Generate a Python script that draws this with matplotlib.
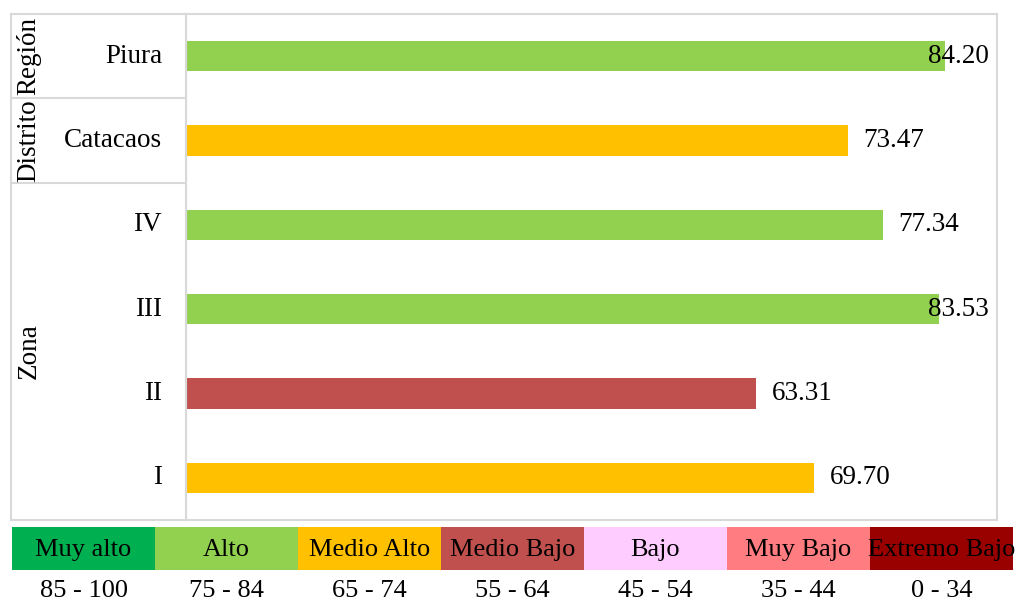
import matplotlib
matplotlib.use("Agg")
import matplotlib.pyplot as plt
from matplotlib.patches import Rectangle

plt.rcParams['font.family'] = ['Liberation Serif', 'DejaVu Serif']

# ---- data ----
categories = ["I", "II", "III", "IV", "Catacaos", "Piura"]
values = [69.70, 63.31, 83.53, 77.34, 73.47, 84.20]
groups = ["Zona", "Distrito", "Región"]
group_spans = [(0, 3), (4, 4), (5, 5)]  # index ranges in categories

level_names = ["Muy alto", "Alto", "Medio Alto", "Medio Bajo", "Bajo", "Muy Bajo", "Extremo Bajo"]
level_ranges = ["85 - 100", "75 - 84", "65 - 74", "55 - 64", "45 - 54", "35 - 44", "0 - 34"]
level_low = [85, 75, 65, 55, 45, 35, 0]
level_colors = ["#00B050", "#92D050", "#FFC000", "#C0504D", "#FFCCFF", "#FF7C80", "#990000"]

def level_color(v):
    for lo, c in zip(level_low, level_colors):
        if round(v) >= lo:
            return c
    return level_colors[-1]

W, H = 1016, 603
fig = plt.figure(figsize=(W / 100, H / 100), dpi=100)
border = "#D9D9D9"
FS = 19.5
FSL = 19

def fx(px):
    return px / W

def fy(py):
    return 1 - py / H

# main bar axes
ax = fig.add_axes([fx(186), fy(520), fx(997 - 186), (520 - 14) / H])
ypos = list(range(len(categories)))
ax.barh(ypos, values, height=0.36, color=[level_color(v) for v in values], zorder=2)
xmax = 90
ax.set_xlim(0, xmax)
ax.set_ylim(-0.5, len(categories) - 0.5)
for y, v in zip(ypos, values):
    xt = min(v + 1.7, 82.3)
    ax.text(xt, y, f"{v:.2f}", ha="left", va="center", fontsize=FS, zorder=3)
ax.set_xticks([])
ax.set_yticks([])
for s in ax.spines.values():
    s.set_color(border)
    s.set_linewidth(1.5)

# left category table
axc = fig.add_axes([fx(11), fy(520), fx(186 - 11), (520 - 14) / H], sharey=ax)
axc.set_xlim(0, 1)
axc.set_xticks([])
axc.tick_params(left=False, labelleft=False)
for s in axc.spines.values():
    s.set_color(border)
    s.set_linewidth(1.5)
for y, c in zip(ypos, categories):
    axc.text((162 - 11) / 175, y, c, ha="right", va="center", fontsize=FS)
for g, (a, b) in zip(groups, group_spans):
    axc.text((29 - 11) / 175, (a + b) / 2, g, rotation=90, ha="center", va="center", fontsize=FS)
    if b < len(categories) - 1:
        axc.axhline(b + 0.5, color=border, lw=1.5)

# bottom legend table
axl = fig.add_axes([fx(12), 0, fx(1013 - 12), (603 - 527) / H])
axl.set_xlim(0, len(level_names))
axl.set_ylim(0, 76)
axl.axis("off")
for i, (n, r, c) in enumerate(zip(level_names, level_ranges, level_colors)):
    axl.add_patch(Rectangle((i, 76 - 43), 1, 43, facecolor=c, edgecolor="none"))
    axl.text(i + 0.5, 76 - 23, n, ha="center", va="center", fontsize=FSL, clip_on=False)
    axl.text(i + 0.5, 12, r, ha="center", va="center", fontsize=FSL, clip_on=False)

fig.savefig("out.png", dpi=100)
